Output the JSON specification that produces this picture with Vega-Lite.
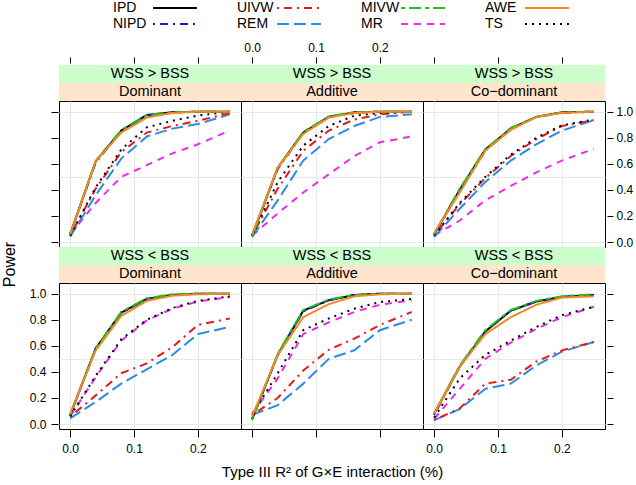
{
  "$schema": "https://vega.github.io/schema/vega-lite/v6.json",
  "padding": {"left": 0, "top": 0, "right": 5, "bottom": 5},
  "background": "white",
  "config": {
    "font": "Liberation Sans",
    "view": {"stroke": "black", "strokeWidth": 1},
    "axis": {"domain": false, "gridColor": "#e8e8e8", "gridWidth": 1, "tickColor": "black", "labelColor": "black", "labelFontSize": 12, "labelFont": "Liberation Sans", "titleFont": "Liberation Sans", "titleColor": "black", "titleFontWeight": "normal", "labelOverlap": false, "labelFlush": false},
    "legend": {"symbolType": "M-3.14,0H3.14", "symbolSize": 196, "symbolStrokeWidth": 2, "symbolOffset": 56, "labelFontSize": 14, "labelFont": "Liberation Sans", "labelColor": "black", "labelAlign": "left", "labelOffset": -70, "columnPadding": 34, "rowPadding": 1, "padding": 0}
  },
  "datasets": {
    "power": [
      {"ratio":">","model":"Dom","method":"MR","r2":0,"power":0.06},{"ratio":">","model":"Dom","method":"MR","r2":0.04,"power":0.30},{"ratio":">","model":"Dom","method":"MR","r2":0.08,"power":0.50},{"ratio":">","model":"Dom","method":"MR","r2":0.12,"power":0.59},{"ratio":">","model":"Dom","method":"MR","r2":0.16,"power":0.68},{"ratio":">","model":"Dom","method":"MR","r2":0.2,"power":0.75},{"ratio":">","model":"Dom","method":"MR","r2":0.25,"power":0.855},
      {"ratio":">","model":"Dom","method":"REM","r2":0,"power":0.04},{"ratio":">","model":"Dom","method":"REM","r2":0.04,"power":0.36},{"ratio":">","model":"Dom","method":"REM","r2":0.08,"power":0.64},{"ratio":">","model":"Dom","method":"REM","r2":0.12,"power":0.81},{"ratio":">","model":"Dom","method":"REM","r2":0.16,"power":0.87},{"ratio":">","model":"Dom","method":"REM","r2":0.2,"power":0.905},{"ratio":">","model":"Dom","method":"REM","r2":0.25,"power":0.98},
      {"ratio":">","model":"Dom","method":"UIVW","r2":0,"power":0.05},{"ratio":">","model":"Dom","method":"UIVW","r2":0.04,"power":0.41},{"ratio":">","model":"Dom","method":"UIVW","r2":0.08,"power":0.69},{"ratio":">","model":"Dom","method":"UIVW","r2":0.12,"power":0.84},{"ratio":">","model":"Dom","method":"UIVW","r2":0.16,"power":0.89},{"ratio":">","model":"Dom","method":"UIVW","r2":0.2,"power":0.93},{"ratio":">","model":"Dom","method":"UIVW","r2":0.25,"power":0.99},
      {"ratio":">","model":"Dom","method":"TS","r2":0,"power":0.05},{"ratio":">","model":"Dom","method":"TS","r2":0.04,"power":0.42},{"ratio":">","model":"Dom","method":"TS","r2":0.08,"power":0.71},{"ratio":">","model":"Dom","method":"TS","r2":0.12,"power":0.88},{"ratio":">","model":"Dom","method":"TS","r2":0.16,"power":0.93},{"ratio":">","model":"Dom","method":"TS","r2":0.2,"power":0.97},{"ratio":">","model":"Dom","method":"TS","r2":0.25,"power":1.0},
      {"ratio":">","model":"Dom","method":"IPD","r2":0,"power":0.06},{"ratio":">","model":"Dom","method":"IPD","r2":0.04,"power":0.62},{"ratio":">","model":"Dom","method":"IPD","r2":0.08,"power":0.855},{"ratio":">","model":"Dom","method":"IPD","r2":0.12,"power":0.975},{"ratio":">","model":"Dom","method":"IPD","r2":0.16,"power":0.995},{"ratio":">","model":"Dom","method":"IPD","r2":0.2,"power":1.0},{"ratio":">","model":"Dom","method":"IPD","r2":0.25,"power":1.0},
      {"ratio":">","model":"Dom","method":"NIPD","r2":0,"power":0.06},{"ratio":">","model":"Dom","method":"NIPD","r2":0.04,"power":0.61},{"ratio":">","model":"Dom","method":"NIPD","r2":0.08,"power":0.85},{"ratio":">","model":"Dom","method":"NIPD","r2":0.12,"power":0.97},{"ratio":">","model":"Dom","method":"NIPD","r2":0.16,"power":0.995},{"ratio":">","model":"Dom","method":"NIPD","r2":0.2,"power":1.0},{"ratio":">","model":"Dom","method":"NIPD","r2":0.25,"power":1.0},
      {"ratio":">","model":"Dom","method":"MIVW","r2":0,"power":0.06},{"ratio":">","model":"Dom","method":"MIVW","r2":0.04,"power":0.62},{"ratio":">","model":"Dom","method":"MIVW","r2":0.08,"power":0.86},{"ratio":">","model":"Dom","method":"MIVW","r2":0.12,"power":0.975},{"ratio":">","model":"Dom","method":"MIVW","r2":0.16,"power":0.995},{"ratio":">","model":"Dom","method":"MIVW","r2":0.2,"power":1.0},{"ratio":">","model":"Dom","method":"MIVW","r2":0.25,"power":1.0},
      {"ratio":">","model":"Dom","method":"AWE","r2":0,"power":0.06},{"ratio":">","model":"Dom","method":"AWE","r2":0.04,"power":0.62},{"ratio":">","model":"Dom","method":"AWE","r2":0.08,"power":0.84},{"ratio":">","model":"Dom","method":"AWE","r2":0.12,"power":0.955},{"ratio":">","model":"Dom","method":"AWE","r2":0.16,"power":0.99},{"ratio":">","model":"Dom","method":"AWE","r2":0.2,"power":1.0},{"ratio":">","model":"Dom","method":"AWE","r2":0.25,"power":1.0},

      {"ratio":">","model":"Add","method":"MR","r2":0,"power":0.05},{"ratio":">","model":"Add","method":"MR","r2":0.04,"power":0.22},{"ratio":">","model":"Add","method":"MR","r2":0.08,"power":0.38},{"ratio":">","model":"Add","method":"MR","r2":0.12,"power":0.52},{"ratio":">","model":"Add","method":"MR","r2":0.16,"power":0.66},{"ratio":">","model":"Add","method":"MR","r2":0.2,"power":0.765},{"ratio":">","model":"Add","method":"MR","r2":0.25,"power":0.81},
      {"ratio":">","model":"Add","method":"REM","r2":0,"power":0.04},{"ratio":">","model":"Add","method":"REM","r2":0.04,"power":0.32},{"ratio":">","model":"Add","method":"REM","r2":0.08,"power":0.625},{"ratio":">","model":"Add","method":"REM","r2":0.12,"power":0.79},{"ratio":">","model":"Add","method":"REM","r2":0.16,"power":0.89},{"ratio":">","model":"Add","method":"REM","r2":0.2,"power":0.96},{"ratio":">","model":"Add","method":"REM","r2":0.25,"power":0.98},
      {"ratio":">","model":"Add","method":"UIVW","r2":0,"power":0.05},{"ratio":">","model":"Add","method":"UIVW","r2":0.04,"power":0.41},{"ratio":">","model":"Add","method":"UIVW","r2":0.08,"power":0.70},{"ratio":">","model":"Add","method":"UIVW","r2":0.12,"power":0.855},{"ratio":">","model":"Add","method":"UIVW","r2":0.16,"power":0.94},{"ratio":">","model":"Add","method":"UIVW","r2":0.2,"power":0.98},{"ratio":">","model":"Add","method":"UIVW","r2":0.25,"power":1.0},
      {"ratio":">","model":"Add","method":"TS","r2":0,"power":0.05},{"ratio":">","model":"Add","method":"TS","r2":0.04,"power":0.46},{"ratio":">","model":"Add","method":"TS","r2":0.08,"power":0.74},{"ratio":">","model":"Add","method":"TS","r2":0.12,"power":0.89},{"ratio":">","model":"Add","method":"TS","r2":0.16,"power":0.97},{"ratio":">","model":"Add","method":"TS","r2":0.2,"power":0.99},{"ratio":">","model":"Add","method":"TS","r2":0.25,"power":1.0},
      {"ratio":">","model":"Add","method":"IPD","r2":0,"power":0.05},{"ratio":">","model":"Add","method":"IPD","r2":0.04,"power":0.57},{"ratio":">","model":"Add","method":"IPD","r2":0.08,"power":0.84},{"ratio":">","model":"Add","method":"IPD","r2":0.12,"power":0.96},{"ratio":">","model":"Add","method":"IPD","r2":0.16,"power":0.995},{"ratio":">","model":"Add","method":"IPD","r2":0.2,"power":1.0},{"ratio":">","model":"Add","method":"IPD","r2":0.25,"power":1.0},
      {"ratio":">","model":"Add","method":"NIPD","r2":0,"power":0.05},{"ratio":">","model":"Add","method":"NIPD","r2":0.04,"power":0.56},{"ratio":">","model":"Add","method":"NIPD","r2":0.08,"power":0.835},{"ratio":">","model":"Add","method":"NIPD","r2":0.12,"power":0.96},{"ratio":">","model":"Add","method":"NIPD","r2":0.16,"power":0.99},{"ratio":">","model":"Add","method":"NIPD","r2":0.2,"power":1.0},{"ratio":">","model":"Add","method":"NIPD","r2":0.25,"power":1.0},
      {"ratio":">","model":"Add","method":"MIVW","r2":0,"power":0.04},{"ratio":">","model":"Add","method":"MIVW","r2":0.04,"power":0.57},{"ratio":">","model":"Add","method":"MIVW","r2":0.08,"power":0.845},{"ratio":">","model":"Add","method":"MIVW","r2":0.12,"power":0.965},{"ratio":">","model":"Add","method":"MIVW","r2":0.16,"power":0.995},{"ratio":">","model":"Add","method":"MIVW","r2":0.2,"power":1.0},{"ratio":">","model":"Add","method":"MIVW","r2":0.25,"power":1.0},
      {"ratio":">","model":"Add","method":"AWE","r2":0,"power":0.06},{"ratio":">","model":"Add","method":"AWE","r2":0.04,"power":0.57},{"ratio":">","model":"Add","method":"AWE","r2":0.08,"power":0.83},{"ratio":">","model":"Add","method":"AWE","r2":0.12,"power":0.955},{"ratio":">","model":"Add","method":"AWE","r2":0.16,"power":0.99},{"ratio":">","model":"Add","method":"AWE","r2":0.2,"power":1.0},{"ratio":">","model":"Add","method":"AWE","r2":0.25,"power":1.0},

      {"ratio":">","model":"Cod","method":"MR","r2":0,"power":0.05},{"ratio":">","model":"Cod","method":"MR","r2":0.04,"power":0.165},{"ratio":">","model":"Cod","method":"MR","r2":0.08,"power":0.32},{"ratio":">","model":"Cod","method":"MR","r2":0.12,"power":0.43},{"ratio":">","model":"Cod","method":"MR","r2":0.16,"power":0.535},{"ratio":">","model":"Cod","method":"MR","r2":0.2,"power":0.625},{"ratio":">","model":"Cod","method":"MR","r2":0.25,"power":0.715},
      {"ratio":">","model":"Cod","method":"REM","r2":0,"power":0.04},{"ratio":">","model":"Cod","method":"REM","r2":0.04,"power":0.255},{"ratio":">","model":"Cod","method":"REM","r2":0.08,"power":0.46},{"ratio":">","model":"Cod","method":"REM","r2":0.12,"power":0.625},{"ratio":">","model":"Cod","method":"REM","r2":0.16,"power":0.75},{"ratio":">","model":"Cod","method":"REM","r2":0.2,"power":0.855},{"ratio":">","model":"Cod","method":"REM","r2":0.25,"power":0.935},
      {"ratio":">","model":"Cod","method":"UIVW","r2":0,"power":0.05},{"ratio":">","model":"Cod","method":"UIVW","r2":0.04,"power":0.29},{"ratio":">","model":"Cod","method":"UIVW","r2":0.08,"power":0.49},{"ratio":">","model":"Cod","method":"UIVW","r2":0.12,"power":0.66},{"ratio":">","model":"Cod","method":"UIVW","r2":0.16,"power":0.79},{"ratio":">","model":"Cod","method":"UIVW","r2":0.2,"power":0.89},{"ratio":">","model":"Cod","method":"UIVW","r2":0.25,"power":0.935},
      {"ratio":">","model":"Cod","method":"TS","r2":0,"power":0.05},{"ratio":">","model":"Cod","method":"TS","r2":0.04,"power":0.30},{"ratio":">","model":"Cod","method":"TS","r2":0.08,"power":0.50},{"ratio":">","model":"Cod","method":"TS","r2":0.12,"power":0.67},{"ratio":">","model":"Cod","method":"TS","r2":0.16,"power":0.80},{"ratio":">","model":"Cod","method":"TS","r2":0.2,"power":0.895},{"ratio":">","model":"Cod","method":"TS","r2":0.25,"power":0.94},
      {"ratio":">","model":"Cod","method":"IPD","r2":0,"power":0.06},{"ratio":">","model":"Cod","method":"IPD","r2":0.04,"power":0.40},{"ratio":">","model":"Cod","method":"IPD","r2":0.08,"power":0.71},{"ratio":">","model":"Cod","method":"IPD","r2":0.12,"power":0.87},{"ratio":">","model":"Cod","method":"IPD","r2":0.16,"power":0.96},{"ratio":">","model":"Cod","method":"IPD","r2":0.2,"power":0.995},{"ratio":">","model":"Cod","method":"IPD","r2":0.25,"power":1.0},
      {"ratio":">","model":"Cod","method":"NIPD","r2":0,"power":0.05},{"ratio":">","model":"Cod","method":"NIPD","r2":0.04,"power":0.40},{"ratio":">","model":"Cod","method":"NIPD","r2":0.08,"power":0.70},{"ratio":">","model":"Cod","method":"NIPD","r2":0.12,"power":0.87},{"ratio":">","model":"Cod","method":"NIPD","r2":0.16,"power":0.96},{"ratio":">","model":"Cod","method":"NIPD","r2":0.2,"power":0.99},{"ratio":">","model":"Cod","method":"NIPD","r2":0.25,"power":1.0},
      {"ratio":">","model":"Cod","method":"MIVW","r2":0,"power":0.06},{"ratio":">","model":"Cod","method":"MIVW","r2":0.04,"power":0.41},{"ratio":">","model":"Cod","method":"MIVW","r2":0.08,"power":0.71},{"ratio":">","model":"Cod","method":"MIVW","r2":0.12,"power":0.875},{"ratio":">","model":"Cod","method":"MIVW","r2":0.16,"power":0.96},{"ratio":">","model":"Cod","method":"MIVW","r2":0.2,"power":0.995},{"ratio":">","model":"Cod","method":"MIVW","r2":0.25,"power":1.0},
      {"ratio":">","model":"Cod","method":"AWE","r2":0,"power":0.07},{"ratio":">","model":"Cod","method":"AWE","r2":0.04,"power":0.38},{"ratio":">","model":"Cod","method":"AWE","r2":0.08,"power":0.70},{"ratio":">","model":"Cod","method":"AWE","r2":0.12,"power":0.86},{"ratio":">","model":"Cod","method":"AWE","r2":0.16,"power":0.96},{"ratio":">","model":"Cod","method":"AWE","r2":0.2,"power":0.99},{"ratio":">","model":"Cod","method":"AWE","r2":0.25,"power":1.0},

      {"ratio":"<","model":"Dom","method":"MR","r2":0,"power":0.06},{"ratio":"<","model":"Dom","method":"MR","r2":0.04,"power":0.36},{"ratio":"<","model":"Dom","method":"MR","r2":0.08,"power":0.64},{"ratio":"<","model":"Dom","method":"MR","r2":0.12,"power":0.795},{"ratio":"<","model":"Dom","method":"MR","r2":0.16,"power":0.885},{"ratio":"<","model":"Dom","method":"MR","r2":0.2,"power":0.94},{"ratio":"<","model":"Dom","method":"MR","r2":0.25,"power":0.975},
      {"ratio":"<","model":"Dom","method":"REM","r2":0,"power":0.043},{"ratio":"<","model":"Dom","method":"REM","r2":0.04,"power":0.17},{"ratio":"<","model":"Dom","method":"REM","r2":0.08,"power":0.31},{"ratio":"<","model":"Dom","method":"REM","r2":0.12,"power":0.42},{"ratio":"<","model":"Dom","method":"REM","r2":0.16,"power":0.53},{"ratio":"<","model":"Dom","method":"REM","r2":0.2,"power":0.69},{"ratio":"<","model":"Dom","method":"REM","r2":0.25,"power":0.745},
      {"ratio":"<","model":"Dom","method":"UIVW","r2":0,"power":0.056},{"ratio":"<","model":"Dom","method":"UIVW","r2":0.04,"power":0.22},{"ratio":"<","model":"Dom","method":"UIVW","r2":0.08,"power":0.39},{"ratio":"<","model":"Dom","method":"UIVW","r2":0.12,"power":0.465},{"ratio":"<","model":"Dom","method":"UIVW","r2":0.16,"power":0.59},{"ratio":"<","model":"Dom","method":"UIVW","r2":0.2,"power":0.76},{"ratio":"<","model":"Dom","method":"UIVW","r2":0.25,"power":0.81},
      {"ratio":"<","model":"Dom","method":"TS","r2":0,"power":0.06},{"ratio":"<","model":"Dom","method":"TS","r2":0.04,"power":0.37},{"ratio":"<","model":"Dom","method":"TS","r2":0.08,"power":0.65},{"ratio":"<","model":"Dom","method":"TS","r2":0.12,"power":0.80},{"ratio":"<","model":"Dom","method":"TS","r2":0.16,"power":0.89},{"ratio":"<","model":"Dom","method":"TS","r2":0.2,"power":0.945},{"ratio":"<","model":"Dom","method":"TS","r2":0.25,"power":0.98},
      {"ratio":"<","model":"Dom","method":"IPD","r2":0,"power":0.07},{"ratio":"<","model":"Dom","method":"IPD","r2":0.04,"power":0.58},{"ratio":"<","model":"Dom","method":"IPD","r2":0.08,"power":0.855},{"ratio":"<","model":"Dom","method":"IPD","r2":0.12,"power":0.96},{"ratio":"<","model":"Dom","method":"IPD","r2":0.16,"power":0.99},{"ratio":"<","model":"Dom","method":"IPD","r2":0.2,"power":1.0},{"ratio":"<","model":"Dom","method":"IPD","r2":0.25,"power":1.0},
      {"ratio":"<","model":"Dom","method":"NIPD","r2":0,"power":0.07},{"ratio":"<","model":"Dom","method":"NIPD","r2":0.04,"power":0.575},{"ratio":"<","model":"Dom","method":"NIPD","r2":0.08,"power":0.85},{"ratio":"<","model":"Dom","method":"NIPD","r2":0.12,"power":0.96},{"ratio":"<","model":"Dom","method":"NIPD","r2":0.16,"power":0.99},{"ratio":"<","model":"Dom","method":"NIPD","r2":0.2,"power":1.0},{"ratio":"<","model":"Dom","method":"NIPD","r2":0.25,"power":1.0},
      {"ratio":"<","model":"Dom","method":"MIVW","r2":0,"power":0.07},{"ratio":"<","model":"Dom","method":"MIVW","r2":0.04,"power":0.58},{"ratio":"<","model":"Dom","method":"MIVW","r2":0.08,"power":0.86},{"ratio":"<","model":"Dom","method":"MIVW","r2":0.12,"power":0.965},{"ratio":"<","model":"Dom","method":"MIVW","r2":0.16,"power":0.995},{"ratio":"<","model":"Dom","method":"MIVW","r2":0.2,"power":1.0},{"ratio":"<","model":"Dom","method":"MIVW","r2":0.25,"power":1.0},
      {"ratio":"<","model":"Dom","method":"AWE","r2":0,"power":0.08},{"ratio":"<","model":"Dom","method":"AWE","r2":0.04,"power":0.565},{"ratio":"<","model":"Dom","method":"AWE","r2":0.08,"power":0.83},{"ratio":"<","model":"Dom","method":"AWE","r2":0.12,"power":0.945},{"ratio":"<","model":"Dom","method":"AWE","r2":0.16,"power":0.985},{"ratio":"<","model":"Dom","method":"AWE","r2":0.2,"power":0.995},{"ratio":"<","model":"Dom","method":"AWE","r2":0.25,"power":1.0},

      {"ratio":"<","model":"Add","method":"MR","r2":0,"power":0.08},{"ratio":"<","model":"Add","method":"MR","r2":0.04,"power":0.35},{"ratio":"<","model":"Add","method":"MR","r2":0.08,"power":0.69},{"ratio":"<","model":"Add","method":"MR","r2":0.12,"power":0.78},{"ratio":"<","model":"Add","method":"MR","r2":0.16,"power":0.86},{"ratio":"<","model":"Add","method":"MR","r2":0.2,"power":0.915},{"ratio":"<","model":"Add","method":"MR","r2":0.25,"power":0.95},
      {"ratio":"<","model":"Add","method":"REM","r2":0,"power":0.07},{"ratio":"<","model":"Add","method":"REM","r2":0.04,"power":0.145},{"ratio":"<","model":"Add","method":"REM","r2":0.08,"power":0.31},{"ratio":"<","model":"Add","method":"REM","r2":0.12,"power":0.50},{"ratio":"<","model":"Add","method":"REM","r2":0.16,"power":0.566},{"ratio":"<","model":"Add","method":"REM","r2":0.2,"power":0.72},{"ratio":"<","model":"Add","method":"REM","r2":0.25,"power":0.80},
      {"ratio":"<","model":"Add","method":"UIVW","r2":0,"power":0.07},{"ratio":"<","model":"Add","method":"UIVW","r2":0.04,"power":0.20},{"ratio":"<","model":"Add","method":"UIVW","r2":0.08,"power":0.41},{"ratio":"<","model":"Add","method":"UIVW","r2":0.12,"power":0.57},{"ratio":"<","model":"Add","method":"UIVW","r2":0.16,"power":0.655},{"ratio":"<","model":"Add","method":"UIVW","r2":0.2,"power":0.76},{"ratio":"<","model":"Add","method":"UIVW","r2":0.25,"power":0.86},
      {"ratio":"<","model":"Add","method":"TS","r2":0,"power":0.07},{"ratio":"<","model":"Add","method":"TS","r2":0.04,"power":0.39},{"ratio":"<","model":"Add","method":"TS","r2":0.08,"power":0.72},{"ratio":"<","model":"Add","method":"TS","r2":0.12,"power":0.81},{"ratio":"<","model":"Add","method":"TS","r2":0.16,"power":0.885},{"ratio":"<","model":"Add","method":"TS","r2":0.2,"power":0.935},{"ratio":"<","model":"Add","method":"TS","r2":0.25,"power":0.96},
      {"ratio":"<","model":"Add","method":"IPD","r2":0,"power":0.04},{"ratio":"<","model":"Add","method":"IPD","r2":0.04,"power":0.53},{"ratio":"<","model":"Add","method":"IPD","r2":0.08,"power":0.87},{"ratio":"<","model":"Add","method":"IPD","r2":0.12,"power":0.95},{"ratio":"<","model":"Add","method":"IPD","r2":0.16,"power":0.99},{"ratio":"<","model":"Add","method":"IPD","r2":0.2,"power":1.0},{"ratio":"<","model":"Add","method":"IPD","r2":0.25,"power":1.0},
      {"ratio":"<","model":"Add","method":"NIPD","r2":0,"power":0.04},{"ratio":"<","model":"Add","method":"NIPD","r2":0.04,"power":0.53},{"ratio":"<","model":"Add","method":"NIPD","r2":0.08,"power":0.865},{"ratio":"<","model":"Add","method":"NIPD","r2":0.12,"power":0.95},{"ratio":"<","model":"Add","method":"NIPD","r2":0.16,"power":0.99},{"ratio":"<","model":"Add","method":"NIPD","r2":0.2,"power":1.0},{"ratio":"<","model":"Add","method":"NIPD","r2":0.25,"power":1.0},
      {"ratio":"<","model":"Add","method":"MIVW","r2":0,"power":0.03},{"ratio":"<","model":"Add","method":"MIVW","r2":0.04,"power":0.54},{"ratio":"<","model":"Add","method":"MIVW","r2":0.08,"power":0.875},{"ratio":"<","model":"Add","method":"MIVW","r2":0.12,"power":0.955},{"ratio":"<","model":"Add","method":"MIVW","r2":0.16,"power":0.99},{"ratio":"<","model":"Add","method":"MIVW","r2":0.2,"power":1.0},{"ratio":"<","model":"Add","method":"MIVW","r2":0.25,"power":1.0},
      {"ratio":"<","model":"Add","method":"AWE","r2":0,"power":0.06},{"ratio":"<","model":"Add","method":"AWE","r2":0.04,"power":0.53},{"ratio":"<","model":"Add","method":"AWE","r2":0.08,"power":0.82},{"ratio":"<","model":"Add","method":"AWE","r2":0.12,"power":0.92},{"ratio":"<","model":"Add","method":"AWE","r2":0.16,"power":0.98},{"ratio":"<","model":"Add","method":"AWE","r2":0.2,"power":0.995},{"ratio":"<","model":"Add","method":"AWE","r2":0.25,"power":1.0},

      {"ratio":"<","model":"Cod","method":"MR","r2":0,"power":0.04},{"ratio":"<","model":"Cod","method":"MR","r2":0.04,"power":0.27},{"ratio":"<","model":"Cod","method":"MR","r2":0.08,"power":0.50},{"ratio":"<","model":"Cod","method":"MR","r2":0.12,"power":0.625},{"ratio":"<","model":"Cod","method":"MR","r2":0.16,"power":0.73},{"ratio":"<","model":"Cod","method":"MR","r2":0.2,"power":0.82},{"ratio":"<","model":"Cod","method":"MR","r2":0.25,"power":0.90},
      {"ratio":"<","model":"Cod","method":"REM","r2":0,"power":0.03},{"ratio":"<","model":"Cod","method":"REM","r2":0.04,"power":0.115},{"ratio":"<","model":"Cod","method":"REM","r2":0.08,"power":0.27},{"ratio":"<","model":"Cod","method":"REM","r2":0.12,"power":0.31},{"ratio":"<","model":"Cod","method":"REM","r2":0.16,"power":0.45},{"ratio":"<","model":"Cod","method":"REM","r2":0.2,"power":0.555},{"ratio":"<","model":"Cod","method":"REM","r2":0.25,"power":0.63},
      {"ratio":"<","model":"Cod","method":"UIVW","r2":0,"power":0.03},{"ratio":"<","model":"Cod","method":"UIVW","r2":0.04,"power":0.12},{"ratio":"<","model":"Cod","method":"UIVW","r2":0.08,"power":0.31},{"ratio":"<","model":"Cod","method":"UIVW","r2":0.12,"power":0.34},{"ratio":"<","model":"Cod","method":"UIVW","r2":0.16,"power":0.48},{"ratio":"<","model":"Cod","method":"UIVW","r2":0.2,"power":0.565},{"ratio":"<","model":"Cod","method":"UIVW","r2":0.25,"power":0.63},
      {"ratio":"<","model":"Cod","method":"TS","r2":0,"power":0.05},{"ratio":"<","model":"Cod","method":"TS","r2":0.04,"power":0.35},{"ratio":"<","model":"Cod","method":"TS","r2":0.08,"power":0.53},{"ratio":"<","model":"Cod","method":"TS","r2":0.12,"power":0.64},{"ratio":"<","model":"Cod","method":"TS","r2":0.16,"power":0.745},{"ratio":"<","model":"Cod","method":"TS","r2":0.2,"power":0.835},{"ratio":"<","model":"Cod","method":"TS","r2":0.25,"power":0.90},
      {"ratio":"<","model":"Cod","method":"IPD","r2":0,"power":0.08},{"ratio":"<","model":"Cod","method":"IPD","r2":0.04,"power":0.44},{"ratio":"<","model":"Cod","method":"IPD","r2":0.08,"power":0.71},{"ratio":"<","model":"Cod","method":"IPD","r2":0.12,"power":0.87},{"ratio":"<","model":"Cod","method":"IPD","r2":0.16,"power":0.94},{"ratio":"<","model":"Cod","method":"IPD","r2":0.2,"power":0.975},{"ratio":"<","model":"Cod","method":"IPD","r2":0.25,"power":0.99},
      {"ratio":"<","model":"Cod","method":"NIPD","r2":0,"power":0.07},{"ratio":"<","model":"Cod","method":"NIPD","r2":0.04,"power":0.44},{"ratio":"<","model":"Cod","method":"NIPD","r2":0.08,"power":0.71},{"ratio":"<","model":"Cod","method":"NIPD","r2":0.12,"power":0.87},{"ratio":"<","model":"Cod","method":"NIPD","r2":0.16,"power":0.94},{"ratio":"<","model":"Cod","method":"NIPD","r2":0.2,"power":0.975},{"ratio":"<","model":"Cod","method":"NIPD","r2":0.25,"power":0.99},
      {"ratio":"<","model":"Cod","method":"MIVW","r2":0,"power":0.08},{"ratio":"<","model":"Cod","method":"MIVW","r2":0.04,"power":0.45},{"ratio":"<","model":"Cod","method":"MIVW","r2":0.08,"power":0.72},{"ratio":"<","model":"Cod","method":"MIVW","r2":0.12,"power":0.875},{"ratio":"<","model":"Cod","method":"MIVW","r2":0.16,"power":0.945},{"ratio":"<","model":"Cod","method":"MIVW","r2":0.2,"power":0.98},{"ratio":"<","model":"Cod","method":"MIVW","r2":0.25,"power":0.995},
      {"ratio":"<","model":"Cod","method":"AWE","r2":0,"power":0.08},{"ratio":"<","model":"Cod","method":"AWE","r2":0.04,"power":0.44},{"ratio":"<","model":"Cod","method":"AWE","r2":0.08,"power":0.69},{"ratio":"<","model":"Cod","method":"AWE","r2":0.12,"power":0.82},{"ratio":"<","model":"Cod","method":"AWE","r2":0.16,"power":0.915},{"ratio":"<","model":"Cod","method":"AWE","r2":0.2,"power":0.97},{"ratio":"<","model":"Cod","method":"AWE","r2":0.25,"power":0.98}
    ]
  },
  "columns": 3,
  "spacing": 0,
  "bounds": "flush",
  "align": "each",
  "resolve": {"scale": {"color": "shared", "strokeDash": "shared"}, "legend": {"color": "shared", "strokeDash": "shared"}},
  "concat": [
    {"width": 182, "height": 18, "view": {"fill": "#ccffcc"}, "data": {"values": [{"label": "WSS > BSS"}]}, "mark": {"type": "text", "fontSize": 14.5, "color": "black"}, "encoding": {"text": {"field": "label"}}},
    {"width": 182, "height": 18, "view": {"fill": "#ccffcc"}, "data": {"values": [{"label": "WSS > BSS"}]}, "mark": {"type": "text", "fontSize": 14.5, "color": "black"}, "encoding": {"text": {"field": "label"}}},
    {"width": 182, "height": 18, "view": {"fill": "#ccffcc"}, "data": {"values": [{"label": "WSS > BSS"}]}, "mark": {"type": "text", "fontSize": 14.5, "color": "black"}, "encoding": {"text": {"field": "label"}}},
    {"width": 182, "height": 18, "view": {"fill": "#ffe5cc"}, "data": {"values": [{"label": "Dominant"}]}, "mark": {"type": "text", "fontSize": 14.5, "color": "black"}, "encoding": {"text": {"field": "label"}}},
    {"width": 182, "height": 18, "view": {"fill": "#ffe5cc"}, "data": {"values": [{"label": "Additive"}]}, "mark": {"type": "text", "fontSize": 14.5, "color": "black"}, "encoding": {"text": {"field": "label"}}},
    {"width": 182, "height": 18, "view": {"fill": "#ffe5cc"}, "data": {"values": [{"label": "Co−dominant"}]}, "mark": {"type": "text", "fontSize": 14.5, "color": "black"}, "encoding": {"text": {"field": "label"}}},

    {"width": 182, "height": 146, "data": {"name": "power"}, "transform": [{"filter": "datum.ratio == '>' && datum.model == 'Dom'"}],
     "layer": [
      {"mark": {"type": "point", "opacity": 0}, "encoding": {
        "x": {"field": "r2", "type": "quantitative", "scale": {"domain": [-0.0175, 0.2675], "nice": false, "zero": false}, "axis": {"orient": "bottom", "values": [0, 0.1, 0.2], "grid": true, "ticks": false, "labels": false, "title": null}},
        "y": {"field": "power", "type": "quantitative", "scale": {"domain": [-0.038, 1.082], "nice": false, "zero": false}, "axis": {"orient": "right", "values": [0, 0.5, 1], "grid": true, "ticks": false, "labels": false, "title": null}}}},
      {"mark": {"type": "line", "strokeWidth": 2}, "encoding": {
        "x": {"field": "r2", "type": "quantitative", "scale": {"domain": [-0.0175, 0.2675], "nice": false, "zero": false}, "axis": {"orient": "top", "values": [0, 0.1, 0.2], "offset": 38, "tickSize": 6, "labels": false, "title": null}},
        "y": {"field": "power", "type": "quantitative", "scale": {"domain": [-0.038, 1.082], "nice": false, "zero": false}, "axis": {"orient": "left", "values": [0, 0.2, 0.4, 0.6, 0.8, 1], "offset": 1, "tickSize": 7, "labels": false, "title": null}},
        "color": {"field": "method", "type": "nominal", "scale": {"domain": ["IPD", "NIPD", "UIVW", "REM", "MIVW", "MR", "AWE", "TS"], "range": ["#000000", "#1b1bc8", "#e8191b", "#2b8ce6", "#1fbf1f", "#ec2aec", "#f5891f", "#000000"]}, "legend": {"title": null, "orient": "none", "legendX": 52, "legendY": -65, "columns": 4}},
        "strokeDash": {"field": "method", "type": "nominal", "scale": {"domain": ["IPD", "NIPD", "UIVW", "REM", "MIVW", "MR", "AWE", "TS"], "range": [[1, 0], [2, 5, 8, 5], [2, 5, 8, 5], [12, 5], [4, 4, 12, 4], [7, 6], [1, 0], [2, 5]]}, "legend": {"title": null, "orient": "none", "legendX": 52, "legendY": -65, "columns": 4}}}}
     ],
     "resolve": {"axis": {"x": "independent", "y": "independent"}}},

    {"width": 182, "height": 146, "data": {"name": "power"}, "transform": [{"filter": "datum.ratio == '>' && datum.model == 'Add'"}],
     "layer": [
      {"mark": {"type": "point", "opacity": 0}, "encoding": {
        "x": {"field": "r2", "type": "quantitative", "scale": {"domain": [-0.0175, 0.2675], "nice": false, "zero": false}, "axis": {"orient": "bottom", "values": [0, 0.1, 0.2], "grid": true, "ticks": false, "labels": false, "title": null}},
        "y": {"field": "power", "type": "quantitative", "scale": {"domain": [-0.038, 1.082], "nice": false, "zero": false}, "axis": {"orient": "right", "values": [0, 0.5, 1], "grid": true, "ticks": false, "labels": false, "title": null}}}},
      {"mark": {"type": "line", "strokeWidth": 2}, "encoding": {
        "x": {"field": "r2", "type": "quantitative", "scale": {"domain": [-0.0175, 0.2675], "nice": false, "zero": false}, "axis": {"orient": "top", "values": [0, 0.1, 0.2], "format": ".1f", "offset": 38, "tickSize": 6, "labelPadding": 3, "title": null}},
        "y": {"field": "power", "type": "quantitative", "scale": {"domain": [-0.038, 1.082], "nice": false, "zero": false}, "axis": null},
        "color": {"field": "method", "type": "nominal", "scale": {"domain": ["IPD", "NIPD", "UIVW", "REM", "MIVW", "MR", "AWE", "TS"], "range": ["#000000", "#1b1bc8", "#e8191b", "#2b8ce6", "#1fbf1f", "#ec2aec", "#f5891f", "#000000"]}, "legend": {"title": null, "orient": "none", "legendX": 52, "legendY": -65, "columns": 4}},
        "strokeDash": {"field": "method", "type": "nominal", "scale": {"domain": ["IPD", "NIPD", "UIVW", "REM", "MIVW", "MR", "AWE", "TS"], "range": [[1, 0], [2, 5, 8, 5], [2, 5, 8, 5], [12, 5], [4, 4, 12, 4], [7, 6], [1, 0], [2, 5]]}, "legend": {"title": null, "orient": "none", "legendX": 52, "legendY": -65, "columns": 4}}}}
     ],
     "resolve": {"axis": {"x": "independent", "y": "independent"}}},

    {"width": 182, "height": 146, "data": {"name": "power"}, "transform": [{"filter": "datum.ratio == '>' && datum.model == 'Cod'"}],
     "layer": [
      {"mark": {"type": "point", "opacity": 0}, "encoding": {
        "x": {"field": "r2", "type": "quantitative", "scale": {"domain": [-0.0175, 0.2675], "nice": false, "zero": false}, "axis": {"orient": "bottom", "values": [0, 0.1, 0.2], "grid": true, "ticks": false, "labels": false, "title": null}},
        "y": {"field": "power", "type": "quantitative", "scale": {"domain": [-0.038, 1.082], "nice": false, "zero": false}, "axis": {"orient": "left", "values": [0, 0.5, 1], "grid": true, "ticks": false, "labels": false, "title": null}}}},
      {"mark": {"type": "line", "strokeWidth": 2}, "encoding": {
        "x": {"field": "r2", "type": "quantitative", "scale": {"domain": [-0.0175, 0.2675], "nice": false, "zero": false}, "axis": {"orient": "top", "values": [0, 0.1, 0.2], "offset": 38, "tickSize": 6, "labels": false, "title": null}},
        "y": {"field": "power", "type": "quantitative", "scale": {"domain": [-0.038, 1.082], "nice": false, "zero": false}, "axis": {"orient": "right", "values": [0, 0.2, 0.4, 0.6, 0.8, 1], "format": ".1f", "offset": 2, "tickSize": 6, "labelPadding": 3, "title": null}},
        "color": {"field": "method", "type": "nominal", "scale": {"domain": ["IPD", "NIPD", "UIVW", "REM", "MIVW", "MR", "AWE", "TS"], "range": ["#000000", "#1b1bc8", "#e8191b", "#2b8ce6", "#1fbf1f", "#ec2aec", "#f5891f", "#000000"]}, "legend": {"title": null, "orient": "none", "legendX": 52, "legendY": -65, "columns": 4}},
        "strokeDash": {"field": "method", "type": "nominal", "scale": {"domain": ["IPD", "NIPD", "UIVW", "REM", "MIVW", "MR", "AWE", "TS"], "range": [[1, 0], [2, 5, 8, 5], [2, 5, 8, 5], [12, 5], [4, 4, 12, 4], [7, 6], [1, 0], [2, 5]]}, "legend": {"title": null, "orient": "none", "legendX": 52, "legendY": -65, "columns": 4}}}}
     ],
     "resolve": {"axis": {"x": "independent", "y": "independent"}}},

    {"width": 182, "height": 18, "view": {"fill": "#ccffcc"}, "data": {"values": [{"label": "WSS < BSS"}]}, "mark": {"type": "text", "fontSize": 14.5, "color": "black"}, "encoding": {"text": {"field": "label"}}},
    {"width": 182, "height": 18, "view": {"fill": "#ccffcc"}, "data": {"values": [{"label": "WSS < BSS"}]}, "mark": {"type": "text", "fontSize": 14.5, "color": "black"}, "encoding": {"text": {"field": "label"}}},
    {"width": 182, "height": 18, "view": {"fill": "#ccffcc"}, "data": {"values": [{"label": "WSS < BSS"}]}, "mark": {"type": "text", "fontSize": 14.5, "color": "black"}, "encoding": {"text": {"field": "label"}}},
    {"width": 182, "height": 18, "view": {"fill": "#ffe5cc"}, "data": {"values": [{"label": "Dominant"}]}, "mark": {"type": "text", "fontSize": 14.5, "color": "black"}, "encoding": {"text": {"field": "label"}}},
    {"width": 182, "height": 18, "view": {"fill": "#ffe5cc"}, "data": {"values": [{"label": "Additive"}]}, "mark": {"type": "text", "fontSize": 14.5, "color": "black"}, "encoding": {"text": {"field": "label"}}},
    {"width": 182, "height": 18, "view": {"fill": "#ffe5cc"}, "data": {"values": [{"label": "Co−dominant"}]}, "mark": {"type": "text", "fontSize": 14.5, "color": "black"}, "encoding": {"text": {"field": "label"}}},

    {"width": 182, "height": 146, "data": {"name": "power"}, "transform": [{"filter": "datum.ratio == '<' && datum.model == 'Dom'"}],
     "layer": [
      {"mark": {"type": "point", "opacity": 0}, "encoding": {
        "x": {"field": "r2", "type": "quantitative", "scale": {"domain": [-0.0175, 0.2675], "nice": false, "zero": false}, "axis": {"orient": "top", "values": [0, 0.1, 0.2], "grid": true, "ticks": false, "labels": false, "title": null}},
        "y": {"field": "power", "type": "quantitative", "scale": {"domain": [-0.038, 1.082], "nice": false, "zero": false}, "axis": {"orient": "right", "values": [0, 0.5, 1], "grid": true, "ticks": false, "labels": false, "title": null}}}},
      {"mark": {"type": "line", "strokeWidth": 2}, "encoding": {
        "x": {"field": "r2", "type": "quantitative", "scale": {"domain": [-0.0175, 0.2675], "nice": false, "zero": false}, "axis": {"orient": "bottom", "values": [0, 0.1, 0.2], "format": ".1f", "tickSize": 8, "labelPadding": 6, "title": null}},
        "y": {"field": "power", "type": "quantitative", "scale": {"domain": [-0.038, 1.082], "nice": false, "zero": false}, "axis": {"orient": "left", "values": [0, 0.2, 0.4, 0.6, 0.8, 1], "format": ".1f", "offset": 1, "tickSize": 7, "labelPadding": 5, "title": "Power", "titleFontSize": 16, "titleX": -49, "titleY": -19, "titleAngle": 270, "titleBaseline": "middle", "titleAlign": "center"}},
        "color": {"field": "method", "type": "nominal", "scale": {"domain": ["IPD", "NIPD", "UIVW", "REM", "MIVW", "MR", "AWE", "TS"], "range": ["#000000", "#1b1bc8", "#e8191b", "#2b8ce6", "#1fbf1f", "#ec2aec", "#f5891f", "#000000"]}, "legend": {"title": null, "orient": "none", "legendX": 52, "legendY": -65, "columns": 4}},
        "strokeDash": {"field": "method", "type": "nominal", "scale": {"domain": ["IPD", "NIPD", "UIVW", "REM", "MIVW", "MR", "AWE", "TS"], "range": [[1, 0], [2, 5, 8, 5], [2, 5, 8, 5], [12, 5], [4, 4, 12, 4], [7, 6], [1, 0], [2, 5]]}, "legend": {"title": null, "orient": "none", "legendX": 52, "legendY": -65, "columns": 4}}}}
     ],
     "resolve": {"axis": {"x": "independent", "y": "independent"}}},

    {"width": 182, "height": 146, "data": {"name": "power"}, "transform": [{"filter": "datum.ratio == '<' && datum.model == 'Add'"}],
     "layer": [
      {"mark": {"type": "point", "opacity": 0}, "encoding": {
        "x": {"field": "r2", "type": "quantitative", "scale": {"domain": [-0.0175, 0.2675], "nice": false, "zero": false}, "axis": {"orient": "top", "values": [0, 0.1, 0.2], "grid": true, "ticks": false, "labels": false, "title": null}},
        "y": {"field": "power", "type": "quantitative", "scale": {"domain": [-0.038, 1.082], "nice": false, "zero": false}, "axis": {"orient": "right", "values": [0, 0.5, 1], "grid": true, "ticks": false, "labels": false, "title": null}}}},
      {"mark": {"type": "line", "strokeWidth": 2}, "encoding": {
        "x": {"field": "r2", "type": "quantitative", "scale": {"domain": [-0.0175, 0.2675], "nice": false, "zero": false}, "axis": {"orient": "bottom", "values": [0, 0.1, 0.2], "tickSize": 8, "labels": false, "title": "Type III R² of G×E interaction (%)", "titleFontSize": 15, "titleX": 91, "titleY": 42, "titleBaseline": "middle", "titleAlign": "center"}},
        "y": {"field": "power", "type": "quantitative", "scale": {"domain": [-0.038, 1.082], "nice": false, "zero": false}, "axis": null},
        "color": {"field": "method", "type": "nominal", "scale": {"domain": ["IPD", "NIPD", "UIVW", "REM", "MIVW", "MR", "AWE", "TS"], "range": ["#000000", "#1b1bc8", "#e8191b", "#2b8ce6", "#1fbf1f", "#ec2aec", "#f5891f", "#000000"]}, "legend": {"title": null, "orient": "none", "legendX": 52, "legendY": -65, "columns": 4}},
        "strokeDash": {"field": "method", "type": "nominal", "scale": {"domain": ["IPD", "NIPD", "UIVW", "REM", "MIVW", "MR", "AWE", "TS"], "range": [[1, 0], [2, 5, 8, 5], [2, 5, 8, 5], [12, 5], [4, 4, 12, 4], [7, 6], [1, 0], [2, 5]]}, "legend": {"title": null, "orient": "none", "legendX": 52, "legendY": -65, "columns": 4}}}}
     ],
     "resolve": {"axis": {"x": "independent", "y": "independent"}}},

    {"width": 182, "height": 146, "data": {"name": "power"}, "transform": [{"filter": "datum.ratio == '<' && datum.model == 'Cod'"}],
     "layer": [
      {"mark": {"type": "point", "opacity": 0}, "encoding": {
        "x": {"field": "r2", "type": "quantitative", "scale": {"domain": [-0.0175, 0.2675], "nice": false, "zero": false}, "axis": {"orient": "top", "values": [0, 0.1, 0.2], "grid": true, "ticks": false, "labels": false, "title": null}},
        "y": {"field": "power", "type": "quantitative", "scale": {"domain": [-0.038, 1.082], "nice": false, "zero": false}, "axis": {"orient": "left", "values": [0, 0.5, 1], "grid": true, "ticks": false, "labels": false, "title": null}}}},
      {"mark": {"type": "line", "strokeWidth": 2}, "encoding": {
        "x": {"field": "r2", "type": "quantitative", "scale": {"domain": [-0.0175, 0.2675], "nice": false, "zero": false}, "axis": {"orient": "bottom", "values": [0, 0.1, 0.2], "format": ".1f", "tickSize": 8, "labelPadding": 6, "title": null}},
        "y": {"field": "power", "type": "quantitative", "scale": {"domain": [-0.038, 1.082], "nice": false, "zero": false}, "axis": {"orient": "right", "values": [0, 0.2, 0.4, 0.6, 0.8, 1], "offset": 2, "tickSize": 6, "labels": false, "title": null}},
        "color": {"field": "method", "type": "nominal", "scale": {"domain": ["IPD", "NIPD", "UIVW", "REM", "MIVW", "MR", "AWE", "TS"], "range": ["#000000", "#1b1bc8", "#e8191b", "#2b8ce6", "#1fbf1f", "#ec2aec", "#f5891f", "#000000"]}, "legend": {"title": null, "orient": "none", "legendX": 52, "legendY": -65, "columns": 4}},
        "strokeDash": {"field": "method", "type": "nominal", "scale": {"domain": ["IPD", "NIPD", "UIVW", "REM", "MIVW", "MR", "AWE", "TS"], "range": [[1, 0], [2, 5, 8, 5], [2, 5, 8, 5], [12, 5], [4, 4, 12, 4], [7, 6], [1, 0], [2, 5]]}, "legend": {"title": null, "orient": "none", "legendX": 52, "legendY": -65, "columns": 4}}}}
     ],
     "resolve": {"axis": {"x": "independent", "y": "independent"}}}
  ]
}
